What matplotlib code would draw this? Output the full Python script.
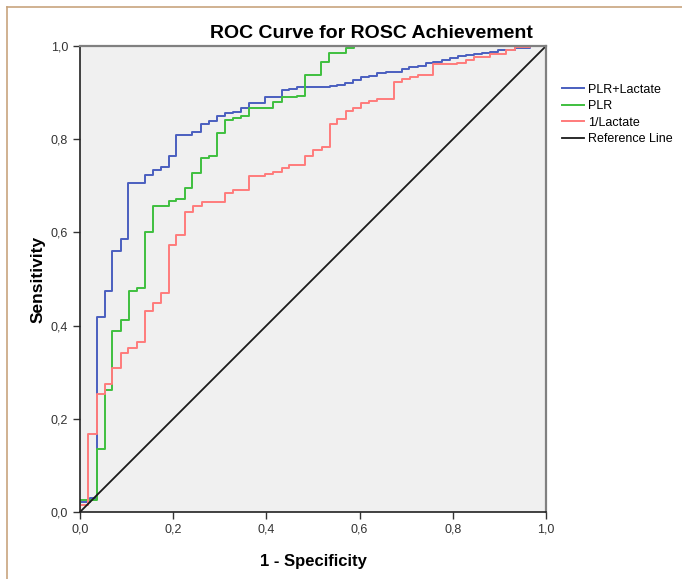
import matplotlib
matplotlib.use('Agg')
import matplotlib.pyplot as plt
from matplotlib.lines import Line2D
from matplotlib.ticker import FuncFormatter

plt.rcParams['font.family'] = ['Liberation Sans', 'DejaVu Sans']

# ROC step points (1 - specificity, sensitivity)
fpr_combo = [0, 0.022, 0.036, 0.054, 0.069, 0.087, 0.104, 0.139, 0.156, 0.174, 0.191, 0.207,
             0.241, 0.260, 0.277, 0.295, 0.311, 0.329, 0.345, 0.363, 0.397, 0.433, 0.449, 0.466,
             0.536, 0.552, 0.569, 0.586, 0.604, 0.621, 0.638, 0.657, 0.690, 0.707, 0.725, 0.742,
             0.758, 0.776, 0.794, 0.812, 0.828, 0.845, 0.862, 0.880, 0.898, 0.933, 0.966, 1.0]
tpr_combo = [0.022, 0.030, 0.418, 0.475, 0.560, 0.586, 0.707, 0.723, 0.734, 0.741, 0.765, 0.808,
             0.816, 0.832, 0.838, 0.850, 0.856, 0.859, 0.868, 0.877, 0.890, 0.906, 0.908, 0.911,
             0.914, 0.917, 0.921, 0.927, 0.933, 0.936, 0.941, 0.944, 0.950, 0.954, 0.958, 0.963,
             0.966, 0.970, 0.974, 0.978, 0.981, 0.983, 0.986, 0.988, 0.991, 0.995, 1.0, 1.0]

fpr_plr = [0, 0.036, 0.054, 0.068, 0.087, 0.105, 0.122, 0.139, 0.156, 0.191, 0.207, 0.225,
           0.241, 0.260, 0.277, 0.295, 0.311, 0.329, 0.345, 0.363, 0.397, 0.415, 0.433, 0.449,
           0.466, 0.483, 0.517, 0.535, 0.570, 0.587, 1.0]
tpr_plr = [0.026, 0.135, 0.262, 0.389, 0.412, 0.475, 0.480, 0.600, 0.657, 0.667, 0.671, 0.695,
           0.728, 0.759, 0.764, 0.814, 0.841, 0.846, 0.850, 0.866, 0.868, 0.879, 0.890, 0.891,
           0.893, 0.938, 0.966, 0.986, 0.995, 1.0, 1.0]

fpr_lac = [0, 0.018, 0.036, 0.054, 0.069, 0.087, 0.104, 0.122, 0.139, 0.157, 0.174, 0.191,
           0.207, 0.225, 0.243, 0.261, 0.311, 0.329, 0.363, 0.397, 0.415, 0.433, 0.449, 0.483,
           0.501, 0.519, 0.536, 0.552, 0.570, 0.586, 0.604, 0.621, 0.638, 0.674, 0.690, 0.708,
           0.725, 0.758, 0.808, 0.828, 0.845, 0.880, 0.914, 0.933, 0.966, 1.0]
tpr_lac = [0.015, 0.167, 0.253, 0.275, 0.310, 0.342, 0.353, 0.365, 0.431, 0.448, 0.471, 0.573,
           0.594, 0.644, 0.656, 0.666, 0.684, 0.691, 0.720, 0.725, 0.730, 0.739, 0.745, 0.764,
           0.777, 0.784, 0.832, 0.843, 0.860, 0.868, 0.877, 0.882, 0.886, 0.923, 0.929, 0.933,
           0.938, 0.961, 0.964, 0.970, 0.977, 0.983, 0.991, 0.997, 1.0, 1.0]

ticks = [0, 0.2, 0.4, 0.6, 0.8, 1.0]

fig = plt.figure(figsize=(6.82, 5.79), dpi=100)
ax = fig.add_axes([80 / 682, 1 - 512 / 579, 466 / 682, 466 / 579])
ax.set_facecolor('#f0f0f0')

# start every curve at the origin
ax.plot([0] + fpr_combo, [0] + tpr_combo, drawstyle='steps-post', color='#4a5fbf', lw=1.4, label='PLR+Lactate')
ax.plot([0] + fpr_plr, [0] + tpr_plr, drawstyle='steps-post', color='#3fbf3f', lw=1.4, label='PLR')
ax.plot([0] + fpr_lac, [0] + tpr_lac, drawstyle='steps-post', color='#ff7b7b', lw=1.4, label='1/Lactate')
ax.plot([0, 1], [0, 1], color='#1a1a1a', lw=1.3, label='Reference Line')

ax.set_xlim(0, 1)
ax.set_ylim(0, 1)
ax.set_xticks(ticks)
ax.set_yticks(ticks)
fmt = FuncFormatter(lambda v, p: ('%.1f' % v).replace('.', ','))
ax.xaxis.set_major_formatter(fmt)
ax.yaxis.set_major_formatter(fmt)
ax.tick_params(direction='out', length=5, width=1, labelsize=9, colors='#333333')

for s in ['left', 'bottom']:
    ax.spines[s].set_color('#222222')
    ax.spines[s].set_linewidth(1.2)
for s in ['top', 'right']:
    ax.spines[s].set_color('#808080')
    ax.spines[s].set_linewidth(1.6)

ax.set_xlabel('1 - Specificity', fontsize=12, fontweight='bold', labelpad=13)
ax.set_ylabel('Sensitivity', fontsize=12.5, fontweight='bold', labelpad=4)
fig.text(371 / 682, 1 - 33 / 579, 'ROC Curve for ROSC Achievement', fontsize=14,
         fontweight='bold', ha='center', va='center')

ax.legend(loc='upper left', bbox_to_anchor=(1.024, 0.93), frameon=False, fontsize=9,
          handlelength=1.75, handletextpad=0.3, labelspacing=0.36, borderaxespad=0)

# light brown frame of the exported chart
fig.add_artist(Line2D([7 / 682, 7 / 682], [0, 1 - 7 / 579], color='#c8a47e', lw=1.2))
fig.add_artist(Line2D([7 / 682, 1], [1 - 7 / 579, 1 - 7 / 579], color='#c8a47e', lw=1.2))

plt.savefig('out.png', dpi=100)
